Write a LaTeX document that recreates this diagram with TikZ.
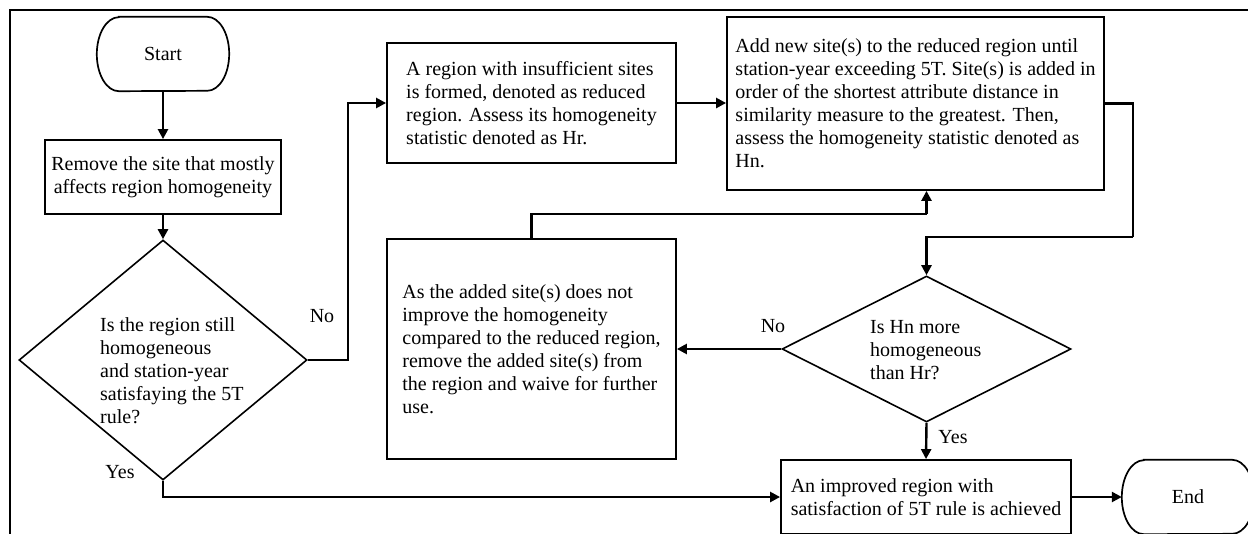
\documentclass[tikz,border=0pt]{standalone}
\usepackage{fontspec}
\setmainfont{Liberation Serif}
\usetikzlibrary{arrows.meta,shapes.geometric,calc}
\tikzset{
  every node/.style={font=\fontsize{20}{23}\selectfont, inner sep=0pt},
  procbox/.style={draw, rectangle, line width=1.8pt, align=left},
  decis/.style={draw, diamond, line width=1.6pt, inner sep=0pt},
  termbox/.style={rectangle, minimum width=132pt, minimum height=74pt},
  termline/.style={line width=1.7pt},
  arr/.style={line width=2.4pt, -{Triangle[length=10pt,width=10pt]}},
  conn/.style={line width=2.4pt},
  lbl/.style={inner sep=0pt},
}
\begin{document}
\begin{tikzpicture}[x=1pt,y=1pt]
\useasboundingbox (0,0) rectangle (1248,-533);
\clip (0,0) rectangle (1248,-533);
% outer frame (only left and top visible)
\draw[line width=2.4pt] (10,-540) -- (10,-10) -- (1260,-10);

% Start terminal
\node[termbox] (s) at (163,-54) {Start};
\draw[termline] ([xshift=22]s.north west) -- ([xshift=-22]s.north east)
  arc[start angle=90,end angle=-90,x radius=22,y radius=37]
  -- ([xshift=22]s.south west)
  arc[start angle=270,end angle=90,x radius=22,y radius=37] -- cycle;

% Remove box
\node[procbox, align=center, minimum width=236pt, minimum height=74pt] (rm) at (163,-177)
  {Remove the site that mostly\\affects region homogeneity};

% Decision 1
\node[decis, minimum width=288pt, minimum height=240pt] (d1) at (163,-360) {};
\node[align=left, anchor=west] (d1t) at (100,-371)
  {Is the region still\\homogeneous\\and station-year\\satisfaying the 5T\\rule?};

% Box A
\node[procbox, minimum width=289pt, minimum height=120pt] (A) at (531.5,-103)
  {A region with insufficient sites\\is formed, denoted as reduced\\region. Assess its homogeneity\\statistic denoted as Hr.};

% Box B
\node[procbox, minimum width=377pt, minimum height=173pt] (B) at (915.5,-103.5)
  {Add new site(s) to the reduced region until\\station-year exceeding 5T. Site(s) is added in\\order of the shortest attribute distance in\\similarity measure to the greatest. Then,\\assess the homogeneity statistic denoted as\\Hn.};

% Box C
\node[procbox, minimum width=289pt, minimum height=220pt] (C) at (531.5,-349)
  {As the added site(s) does not\\improve the homogeneity\\compared to the reduced region,\\remove the added site(s) from\\the region and waive for further\\use.};

% Decision 2
\node[decis, minimum width=289pt, minimum height=146pt] (d2) at (926.5,-349) {};
\node[align=left, anchor=west] (d2t) at (870,-350)
  {Is Hn more\\homogeneous\\than Hr?};

% Box D
\node[procbox, minimum width=290pt, minimum height=74pt] (D) at (926,-497)
  {An improved region with\\satisfaction of 5T rule is achieved};

% End terminal
\node[termbox] (e) at (1188,-497) {End};
\draw[termline] ([xshift=22]e.north west) -- ([xshift=-22]e.north east)
  arc[start angle=90,end angle=-90,x radius=22,y radius=37]
  -- ([xshift=22]e.south west)
  arc[start angle=270,end angle=90,x radius=22,y radius=37] -- cycle;

% helper coordinates
\coordinate (kA) at (348,-200);
\coordinate (kB) at (1133,-237);
\coordinate (jC) at (926.5,-214);

% connectors
\draw[arr] (s.south) -- (rm.north);
\draw[arr] (rm.south) -- (d1.north);
\draw[arr] (d1.east) -| (kA) |- (A.west);
\draw[arr] (A.east) -- (A.east -| B.west);
\draw[conn] (B.east) -| (kB);
\draw[arr] (kB) -- (kB -| d2.north) -- (d2.north);
\draw[arr] (d2.west) -- (C.east);
\draw[conn] (C.north) |- (jC);
\draw[arr] (jC) -- (jC |- B.south);
\draw[arr] (d2.south) -- (D.north);
\draw[arr] (d1.south) |- (D.west);
\draw[arr] (D.east) -- (e.west);

% labels
\node[lbl] (no1) at (322,-316) {No};
\node[lbl] (yes1) at (120,-472) {Yes};
\node[lbl] (no2) at (773,-326) {No};
\node[lbl] (yes2) at (953,-437) {Yes};
\end{tikzpicture}
\end{document}
